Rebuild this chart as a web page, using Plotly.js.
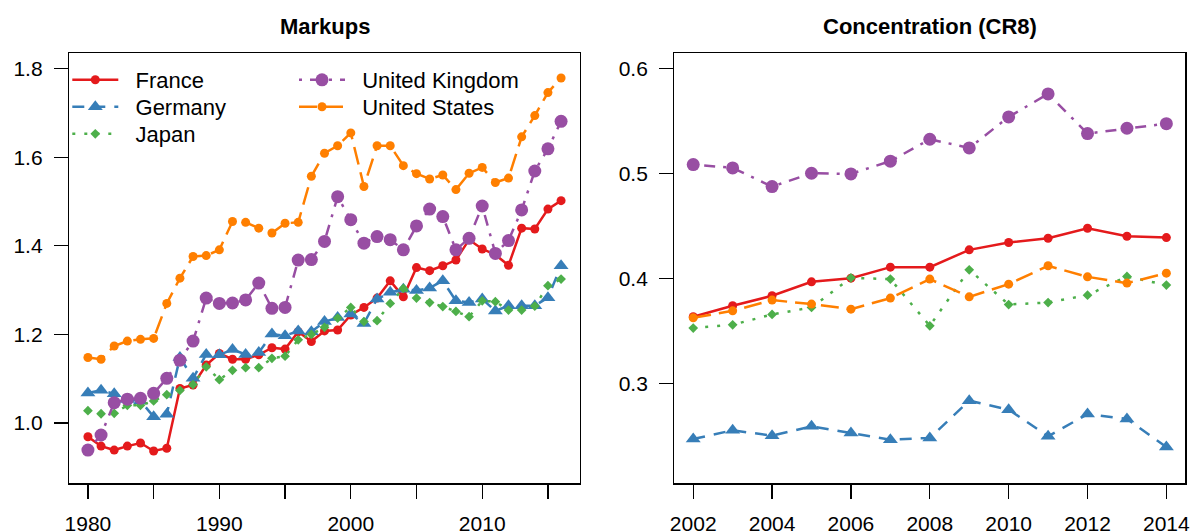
<!DOCTYPE html>
<html>
<head>
<meta charset="utf-8">
<script src="https://cdn.plot.ly/plotly-3.0.1.min.js"></script>
<style>
  html, body { margin: 0; padding: 0; background: #ffffff; }
  #chart { width: 1192px; height: 532px; }
</style>
</head>
<body>
<div id="chart"></div>
<script>
// ---------- data ----------
const markupYears = [1980,1981,1982,1983,1984,1985,1986,1987,1988,1989,
                     1990,1991,1992,1993,1994,1995,1996,1997,1998,1999,
                     2000,2001,2002,2003,2004,2005,2006,2007,2008,2009,
                     2010,2011,2012,2013,2014,2015,2016];

const franceMarkup  = [0.969,0.948,0.939,0.948,0.955,0.937,0.943,1.078,1.086,1.131,
                       1.157,1.144,1.144,1.154,1.170,1.167,1.206,1.184,1.208,1.210,
                       1.244,1.261,1.282,1.321,1.285,1.351,1.344,1.355,1.368,1.414,
                       1.393,1.380,1.356,1.440,1.438,1.483,1.502];
const germanyMarkup = [1.068,1.074,1.066,1.053,1.050,1.014,1.020,1.148,1.101,1.155,
                       1.154,1.166,1.155,1.159,1.201,1.197,1.208,1.206,1.229,1.238,
                       1.246,1.225,1.280,1.295,1.302,1.299,1.305,1.321,1.276,1.272,
                       1.280,1.253,1.265,1.265,1.265,1.283,1.355];
const japanMarkup   = [1.028,1.021,1.022,1.040,1.040,1.050,1.064,1.074,1.087,1.127,
                       1.098,1.119,1.125,1.125,1.146,1.151,1.188,1.200,1.216,1.237,
                       1.261,1.229,1.231,1.270,1.304,1.282,1.272,1.263,1.252,1.240,
                       1.276,1.274,1.255,1.255,1.264,1.310,1.325];
const ukMarkup      = [0.939,0.973,1.046,1.054,1.056,1.067,1.101,1.142,1.185,1.282,
                       1.270,1.271,1.278,1.316,1.259,1.261,1.368,1.369,1.410,1.511,
                       1.459,1.406,1.421,1.414,1.391,1.445,1.483,1.466,1.391,1.417,
                       1.490,1.383,1.412,1.481,1.569,1.619,1.681];
const usMarkup      = [1.148,1.144,1.174,1.185,1.189,1.191,1.270,1.327,1.376,1.378,
                       1.391,1.455,1.453,1.440,1.429,1.451,1.453,1.557,1.609,1.626,
                       1.655,1.534,1.626,1.626,1.581,1.563,1.551,1.560,1.527,1.564,
                       1.577,1.543,1.553,1.646,1.694,1.746,1.779];

const crYears    = [2002,2003,2004,2005,2006,2007,2008,2009,2010,2011,2012,2013,2014];
const franceCR8  = [0.3635,0.3740,0.3835,0.3968,0.4003,0.4108,0.4108,0.4273,0.4343,0.4384,0.4479,0.4403,0.4390];
const germanyCR8 = [0.2470,0.2553,0.2502,0.2591,0.2527,0.2464,0.2480,0.2835,0.2750,0.2496,0.2708,0.2661,0.2394];
const japanCR8   = [0.3527,0.3559,0.3657,0.3724,0.4006,0.3994,0.3549,0.4083,0.3752,0.3771,0.3841,0.4019,0.3937];
const ukCR8      = [0.5086,0.5054,0.4876,0.5003,0.4997,0.5118,0.5327,0.5244,0.5540,0.5759,0.5381,0.5432,0.5476];
const usCR8      = [0.3625,0.3692,0.3794,0.3756,0.3708,0.3813,0.3994,0.3825,0.3946,0.4121,0.4016,0.3956,0.4051];

const countries = ["France","Germany","Japan","United Kingdom","United States"];

const markupTickVals = [1980,1985,1990,1995,2000,2005,2010,2015];
const markupTickText = ["1980","","1990","","2000","","2010",""];
const markupYTicks   = [1.0,1.2,1.4,1.6,1.8];
const crTickVals     = [2002,2004,2006,2008,2010,2012,2014];
const crYTicks       = [0.3,0.4,0.5,0.6];

// ---------- styles ----------
const W = 1192, H = 532;
const styles = [
  {color:"#E41A1C", dash:"solid",            symbol:"circle",      size:9,  lx:67.3, ly:80},
  {color:"#377EB8", dash:"12px,9px",         symbol:"triangle-up", size:13, lx:67.3, ly:107},
  {color:"#4DAF4A", dash:"3px,9px",          symbol:"diamond",     size:7.5,lx:67.3, ly:134},
  {color:"#984EA3", dash:"3px,8px,11px,8px", symbol:"circle",      size:13, lx:294,  ly:80},
  {color:"#FF7F00", dash:"18px,8px",         symbol:"circle",      size:9,  lx:294,  ly:107}
];

const markupSeries = [franceMarkup, germanyMarkup, japanMarkup, ukMarkup, usMarkup];
const crSeries     = [franceCR8, germanyCR8, japanCR8, ukCR8, usCR8];

const FONT = "Liberation Sans, Arial, Helvetica, sans-serif";
const NB = "\u00a0\u00a0";
const legendIds = ["legend","legend2","legend3","legend4","legend5"];

const traces = [];
countries.forEach((name, i) => {
  const s = styles[i];
  traces.push({
    type:"scatter", mode:"lines+markers", name:NB + name,
    x: markupYears, y: markupSeries[i], xaxis:"x", yaxis:"y",
    line:{color:s.color, width:2.5, dash:s.dash},
    marker:{color:s.color, symbol:s.symbol, size:s.size},
    legend:legendIds[i], showlegend:true
  });
});
countries.forEach((name, i) => {
  const s = styles[i];
  traces.push({
    type:"scatter", mode:"lines+markers", name:name,
    x: crYears, y: crSeries[i], xaxis:"x2", yaxis:"y2",
    line:{color:s.color, width:2.5, dash:s.dash},
    marker:{color:s.color, symbol:s.symbol, size:s.size},
    showlegend:false
  });
});

const yDom = [(H-483.3)/H, (H-52.7)/H];

const baseAxis = {
  showgrid:false, zeroline:false, showline:true, mirror:true,
  linecolor:"#000", linewidth:1.2,
  ticks:"outside", ticklen:14, tickwidth:1.2, tickcolor:"#000",
  tickfont:{family:FONT, size:21, color:"#000"}
};

const layout = {
  width:W, height:H,
  margin:{l:0, r:0, t:0, b:0, autoexpand:false},
  paper_bgcolor:"#fff", plot_bgcolor:"#fff",
  font:{family:FONT, color:"#000"},
  xaxis: Object.assign({}, baseAxis, {
    domain:[69/W, 580/W], range:[1978.56, 2017.44],
    tickmode:"array", tickvals:markupTickVals, ticktext:markupTickText,
    ticklabelstandoff:7, anchor:"y"
  }),
  yaxis: Object.assign({}, baseAxis, {
    domain:yDom, range:[0.864, 1.836],
    tickmode:"array", tickvals:markupYTicks, tickformat:".1f",
    ticklabelstandoff:7, anchor:"x"
  }),
  xaxis2: Object.assign({}, baseAxis, {
    domain:[674.3/W, 1185.3/W], range:[2001.52, 2014.48],
    tickmode:"array", tickvals:crTickVals,
    ticklabelstandoff:7, anchor:"y2"
  }),
  yaxis2: Object.assign({}, baseAxis, {
    domain:yDom, range:[0.2048, 0.6152],
    tickmode:"array", tickvals:crYTicks, tickformat:".1f",
    ticklabelstandoff:7, anchor:"x2"
  }),
  annotations:[
    {text:"Markups", xref:"paper", yref:"paper", x:(69+580)/2/W, y:(H-26)/H,
     xanchor:"center", yanchor:"middle", showarrow:false,
     font:{family:FONT, size:22, color:"#000", weight:"bold"}},
    {text:"Concentration (CR8)", xref:"paper", yref:"paper", x:(674.3+1185.3)/2/W, y:(H-26)/H,
     xanchor:"center", yanchor:"middle", showarrow:false,
     font:{family:FONT, size:22, color:"#000", weight:"bold"}}
  ],
  showlegend:true
};

styles.forEach((s, i) => {
  layout[legendIds[i]] = {
    x:s.lx/W, y:(H - s.ly)/H, xanchor:"left", yanchor:"middle",
    orientation:"v", bgcolor:"rgba(0,0,0,0)", borderwidth:0,
    itemwidth:46,
    font:{family:FONT, size:22, color:"#000"}
  };
});

Plotly.newPlot("chart", traces, layout, {staticPlot:true, displayModeBar:false});
</script>
</body>
</html>
